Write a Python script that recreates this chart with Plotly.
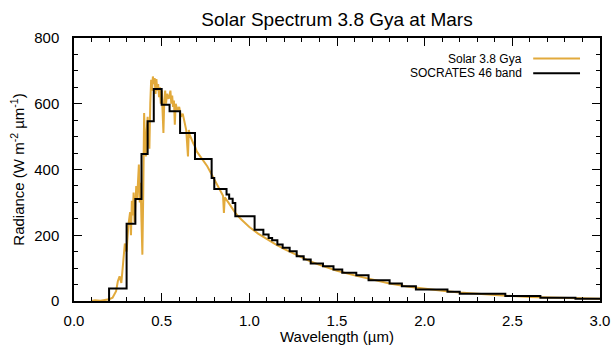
import plotly.graph_objects as go

# High-resolution solar spectrum 3.8 Gya at Mars (wavelength in µm, radiance in W m-2 µm-1)
solar_wl = [0.10, 0.12, 0.15, 0.18, 0.20, 0.22, 0.24, 0.25, 0.26, 0.27, 0.28, 0.29,
            0.30, 0.31, 0.32, 0.325, 0.33, 0.335, 0.34, 0.345, 0.35, 0.355, 0.36,
            0.365, 0.37, 0.375, 0.38, 0.385, 0.39, 0.395, 0.40, 0.405, 0.41, 0.415,
            0.42, 0.425, 0.43, 0.435, 0.44, 0.445, 0.45, 0.455, 0.46, 0.465, 0.47,
            0.475, 0.48, 0.485, 0.49, 0.495, 0.50, 0.505, 0.51, 0.515, 0.52, 0.525,
            0.53, 0.54, 0.55, 0.555, 0.56, 0.565, 0.57, 0.575, 0.58, 0.59, 0.60,
            0.61, 0.62, 0.63, 0.64, 0.65, 0.655, 0.66, 0.67, 0.68, 0.69, 0.70, 0.72,
            0.74, 0.76, 0.78, 0.80, 0.82, 0.84, 0.85, 0.855, 0.86, 0.88, 0.90, 0.92,
            0.95, 1.00, 1.05, 1.10, 1.15, 1.20, 1.25, 1.30, 1.35, 1.40, 1.45, 1.50,
            1.60, 1.70, 1.80, 1.90, 2.00, 2.10, 2.20, 2.30, 2.40, 2.50, 2.60, 2.70,
            2.80, 2.90, 3.00]
solar_rad = [0, 2, 1, 3, 5, 10, 30, 60, 75, 55, 110, 175,
             150, 230, 270, 200, 305, 260, 330, 240, 290, 350, 310,
             380, 415, 300, 360, 240, 141, 330, 572, 480, 440, 520,
             560, 500, 463, 600, 673, 640, 683, 660, 678, 630, 675,
             640, 660, 620, 650, 600, 640, 580, 511, 610, 640, 600,
             630, 615, 640, 600, 625, 590, 610, 536, 600, 580, 590,
             560, 570, 545, 520, 440, 520, 505, 490, 480, 470, 455, 440,
             425, 410, 390, 370, 350, 330, 320, 268, 315, 300, 285, 268,
             250, 225, 205, 188, 172, 158, 145, 132, 120, 110, 100, 92,
             78, 65, 53, 44, 37, 31, 26, 22, 18, 15, 12.5, 10.5,
             9, 7.5, 6.5]

# SOCRATES 46-band averages: band edges (µm) and band-mean radiance
band_edges = [0.2, 0.3, 0.35, 0.385, 0.42, 0.455, 0.5, 0.545, 0.605, 0.69,
              0.785, 0.80, 0.87, 0.885, 0.905, 0.92, 1.03, 1.08, 1.11, 1.13,
              1.16, 1.19, 1.23, 1.27, 1.31, 1.35, 1.42, 1.48, 1.53, 1.61,
              1.68, 1.80, 1.87, 1.95, 2.13, 2.20, 2.46, 2.66, 2.86, 3.2]
band_rad = [38, 235, 310, 447, 547, 645, 597, 577, 511, 432,
            374, 341, 324, 311, 298, 258, 217, 202, 192, 185,
            172, 162, 151, 136, 126, 114, 106, 96, 86, 78,
            63, 53, 45, 35, 28, 22, 15, 10, 7]

series_names = ["Solar 3.8 Gya", "SOCRATES 46 band"]
x_ticks = [0.0, 0.5, 1.0, 1.5, 2.0, 2.5, 3.0]
y_ticks = [0, 200, 400, 600, 800]

GOLD = "#E2AA3C"
FONT = "Liberation Sans, Arial, Helvetica, sans-serif"

fig = go.Figure()
fig.add_trace(go.Scatter(
    x=solar_wl, y=solar_rad, mode="lines", name=series_names[0],
    line=dict(color=GOLD, width=2), showlegend=False))

step_x = [band_edges[0]] + band_edges
step_y = [0] + band_rad + [band_rad[-1]]
fig.add_trace(go.Scatter(
    x=step_x, y=step_y, mode="lines", name=series_names[1],
    line=dict(color="black", width=2, shape="hv"), showlegend=False))

axis_common = dict(
    showgrid=False, zeroline=False, showline=True, linecolor="black",
    linewidth=1.5, mirror="ticks", ticks="inside", tickcolor="black",
    tickwidth=1.2, ticklen=8, automargin=False,
    tickfont=dict(size=15, color="black", family=FONT),
)

fig.update_xaxes(
    range=[0, 3.0], tickvals=x_ticks, ticktext=[f"{v:.1f}" for v in x_ticks],
    ticklabelstandoff=5,
    minor=dict(dtick=0.1, ticks="inside", ticklen=4, tickcolor="black", tickwidth=1),
    title=dict(text="Wavelength (µm)", font=dict(size=15, color="black", family=FONT), standoff=0),
    **axis_common)
fig.update_yaxes(
    range=[0, 800], tickvals=y_ticks, ticklabelstandoff=10,
    minor=dict(dtick=50, ticks="inside", ticklen=4, tickcolor="black", tickwidth=1),
    title=dict(text="Radiance (W m<sup>-2</sup> µm<sup>-1</sup>)",
               font=dict(size=15, color="black", family=FONT), standoff=6),
    **axis_common)

# Legend: text on the left, line sample on the right
legend_rows = [(0.922, GOLD), (0.866, "black")]
for name, (yp, col) in zip(series_names, legend_rows):
    fig.add_annotation(x=0.856, y=yp, xref="paper", yref="paper", text=name,
                       showarrow=False, xanchor="right", yanchor="middle",
                       font=dict(size=12, color="black", family=FONT))
    fig.add_shape(type="line", xref="paper", yref="paper",
                  x0=0.873, x1=0.962, y0=yp, y1=yp, line=dict(color=col, width=2))

fig.update_layout(
    width=615, height=345,
    margin=dict(l=74, r=15, t=38, b=44, autoexpand=False),
    paper_bgcolor="white", plot_bgcolor="white",
    title=dict(text="Solar Spectrum 3.8 Gya at Mars", x=0.548, xanchor="center",
               y=0.945, yanchor="middle",
               font=dict(size=19, color="black", family=FONT)),
    font=dict(family=FONT, color="black"),
)

fig.write_html("out.html")
